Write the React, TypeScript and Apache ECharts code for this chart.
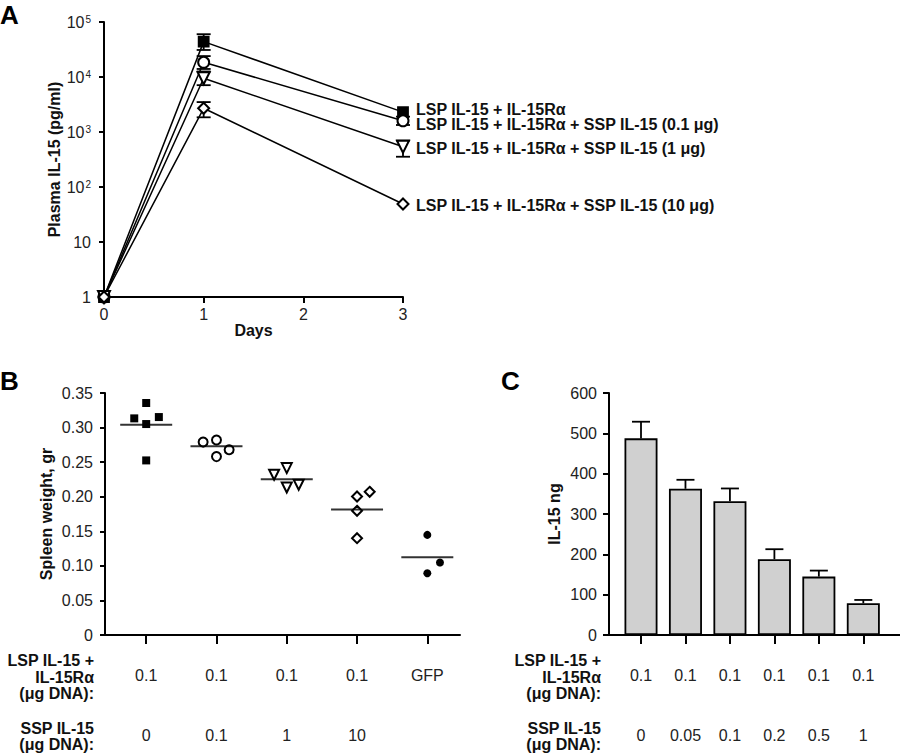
import React, { useEffect, useRef } from "react";
import * as echarts from "echarts";

const FONT = "'Liberation Sans', Arial, Helvetica, sans-serif";
const INK = "#111";

// ---------- Panel A: plasma IL-15 over days (log scale) ----------
const daysA = [0, 1, 3];
const seriesNamesA = [
  "LSP IL-15 + IL-15Rα",
  "LSP IL-15 + IL-15Rα + SSP IL-15 (0.1 μg)",
  "LSP IL-15 + IL-15Rα + SSP IL-15 (1 μg)",
  "LSP IL-15 + IL-15Rα + SSP IL-15 (10 μg)",
];
const plasmaSquare = [1, 44000, 2300];
const plasmaCircle = [1, 18500, 1600];
const plasmaTriangle = [1, 9500, 540];
const plasmaDiamond = [1, 2700, 49];
// [day, low, high]
const plasmaErrors = [
  [1, 31000, 60000],
  [1, 14000, 24000],
  [3, 1340, 1900],
  [1, 7100, 12600],
  [3, 355, 700],
  [1, 1850, 3500],
];
const dayTicks = [0, 1, 2, 3];

// ---------- Panel B: spleen weight dot plot ----------
const lspRowB = ["0.1", "0.1", "0.1", "0.1", "GFP"];
const sspRowB = ["0", "0.1", "1", "10", ""];
const spleenSquares = [[1, 0.3355], [0.83, 0.3133], [1.18, 0.3152], [1, 0.3051], [1, 0.2525]];
const spleenCircles = [[1.81, 0.279], [2, 0.282], [2.18, 0.268], [2, 0.258]];
const spleenTriangles = [[2.82, 0.2317], [3, 0.2414], [3, 0.2134], [3.17, 0.2172]];
const spleenDiamonds = [[4, 0.2003], [4.18, 0.2071], [4, 0.1796], [4, 0.14]];
const spleenGFP = [[5, 0.1448], [5.18, 0.1048], [5, 0.0893]];
const spleenMeans = [0.304, 0.273, 0.2254, 0.1815, 0.1125];

// ---------- Panel C: IL-15 ng bars ----------
const lspRowC = ["0.1", "0.1", "0.1", "0.1", "0.1", "0.1"];
const sspRowC = ["0", "0.05", "0.1", "0.2", "0.5", "1"];
const il15Ng = [487.5, 362.5, 331.9, 187.9, 144.8, 78.6];
const il15Err = [41.3, 22.3, 31.4, 24.8, 14.9, 8.3];

const headerLSP = ["LSP IL-15 +", "IL-15Rα", "(μg DNA):"];
const headerSSP = ["SSP IL-15", "(μg DNA):"];

const axisLine = { lineStyle: { color: "#000", width: 2 } };

function errRender(capLow: boolean, capW: number) {
  return (params: any, api: any) => {
    const x = api.value(0);
    const lo = api.value(1);
    const hi = api.value(2);
    const pLo = api.coord([x, lo]);
    const pHi = api.coord([x, hi]);
    const st = { stroke: "#000", lineWidth: 1.8 };
    const w = capW / 2;
    const children: any[] = [
      { type: "line", shape: { x1: pLo[0], y1: pLo[1], x2: pHi[0], y2: pHi[1] }, style: st },
      { type: "line", shape: { x1: pHi[0] - w, y1: pHi[1], x2: pHi[0] + w, y2: pHi[1] }, style: st },
    ];
    if (capLow) {
      children.push({ type: "line", shape: { x1: pLo[0] - w, y1: pLo[1], x2: pLo[0] + w, y2: pLo[1] }, style: st });
    }
    return { type: "group", children };
  };
}

export default function App() {
  const ref = useRef<HTMLDivElement>(null);
  useEffect(() => {
    if (!ref.current) return;
    const chart = echarts.init(ref.current, null, { renderer: "svg" });

    const plasmaSets = [plasmaSquare, plasmaCircle, plasmaTriangle, plasmaDiamond];
    const symA = ["rect", "emptyCircle", "emptyTriangle", "emptyDiamond"];
    const rotA = [0, 0, 180, 0];
    const sizeA = [10, 11, 12, 11];
    const labelOffA = [[0, -3], [0, 4], [0, 2], [0, 1]];

    const lineSeries = plasmaSets.map((vals, i) => ({
      type: "line",
      name: seriesNamesA[i],
      xAxisIndex: 0,
      yAxisIndex: 0,
      data: daysA.map((d, j) => [d, vals[j]]),
      symbol: symA[i],
      symbolRotate: rotA[i],
      symbolSize: sizeA[i],
      showAllSymbol: true,
      clip: false,
      z: 5,
      lineStyle: { color: "#000", width: 1.5 },
      itemStyle: { color: "#000", borderColor: "#000", borderWidth: 1.8 },
      endLabel: {
        show: true,
        formatter: "{a}",
        distance: 13,
        offset: labelOffA[i],
        fontFamily: FONT,
        fontWeight: "bold",
        fontSize: 16,
        color: INK,
      },
    }));

    const scatterSets = [spleenSquares, spleenCircles, spleenTriangles, spleenDiamonds, spleenGFP];
    const symB = ["rect", "emptyCircle", "emptyTriangle", "emptyDiamond", "circle"];
    const rotB = [0, 0, 180, 0, 0];
    const sizeB = [8, 9, 10, 10, 8];
    const scatterSeries = scatterSets.map((pts, i) => ({
      type: "scatter",
      xAxisIndex: 1,
      yAxisIndex: 1,
      data: pts,
      symbol: symB[i],
      symbolRotate: rotB[i],
      symbolSize: sizeB[i],
      clip: false,
      z: 5,
      itemStyle: {
        color: "#000",
        borderColor: "#000",
        borderWidth: i === 0 || i === 4 ? 0 : 1.6,
        opacity: 1,
      },
    }));

    const gridBase = { containLabel: false, outerBoundsMode: "none" };

    const option: any = {
      animation: false,
      backgroundColor: "#fff",
      textStyle: { fontFamily: FONT },
      grid: [
        { ...gridBase, left: 104, top: 22, width: 299, height: 275 },
        { ...gridBase, left: 105, top: 393, width: 355, height: 242 },
        { ...gridBase, left: 609, top: 393, width: 291, height: 242 },
      ],
      xAxis: [
        {
          type: "value",
          gridIndex: 0,
          min: 0,
          max: 3,
          interval: 1,
          axisLine,
          axisTick: { show: true, length: 6, lineStyle: { color: "#000", width: 2 } },
          axisLabel: {
            customValues: dayTicks,
            fontSize: 16,
            color: "#222",
            margin: 9,
            fontFamily: FONT,
          },
          splitLine: { show: false },
          name: "Days",
          nameLocation: "middle",
          nameGap: 25,
          nameTextStyle: { fontFamily: FONT, fontWeight: "bold", fontSize: 16, color: INK },
        },
        {
          type: "value",
          gridIndex: 1,
          min: 0.4138,
          max: 5.465,
          axisLine,
          axisTick: { show: true, length: 9, customValues: [1, 2, 3, 4, 5], lineStyle: { color: "#000", width: 2 } },
          axisLabel: {
            customValues: [1, 2, 3, 4, 5],
            formatter: (v: number) => `${lspRowB[Math.round(v) - 1]}\n${sspRowB[Math.round(v) - 1]}`,
            fontSize: 16,
            lineHeight: 60,
            margin: 10,
            color: "#222",
            fontFamily: FONT,
          },
          splitLine: { show: false },
        },
        {
          type: "value",
          gridIndex: 2,
          min: 0.2803,
          max: 6.825,
          axisLine,
          axisTick: { show: true, length: 9, customValues: [1, 2, 3, 4, 5, 6], lineStyle: { color: "#000", width: 2 } },
          axisLabel: {
            customValues: [1, 2, 3, 4, 5, 6],
            formatter: (v: number) => `${lspRowC[Math.round(v) - 1]}\n${sspRowC[Math.round(v) - 1]}`,
            fontSize: 16,
            lineHeight: 60,
            margin: 10,
            color: "#222",
            fontFamily: FONT,
          },
          splitLine: { show: false },
        },
      ],
      yAxis: [
        {
          type: "log",
          gridIndex: 0,
          logBase: 10,
          min: 1,
          max: 100000,
          axisLine: { show: true, ...axisLine },
          axisTick: { show: true, length: 5, lineStyle: { color: "#000", width: 2 } },
          axisLabel: {
            fontSize: 16,
            color: "#222",
            margin: 13,
            fontFamily: FONT,
            formatter: (v: number) => {
              const e = Math.round(Math.log10(v));
              if (e === 0) return "1";
              if (e === 1) return "10";
              return `10{sup|${e}}`;
            },
            rich: {
              sup: { fontSize: 10, color: "#222", verticalAlign: "top", padding: [0, 0, 6, 1], fontFamily: FONT },
            },
          },
          splitLine: { show: false },
          minorTick: { show: false },
          name: "Plasma IL-15 (pg/ml)",
          nameLocation: "middle",
          nameGap: 40,
          nameTextStyle: { fontFamily: FONT, fontWeight: "bold", fontSize: 16, color: INK },
        },
        {
          type: "value",
          gridIndex: 1,
          min: 0,
          max: 0.35,
          interval: 0.05,
          axisLine: { show: true, ...axisLine },
          axisTick: { show: true, length: 5, lineStyle: { color: "#000", width: 2 } },
          axisLabel: {
            fontSize: 16,
            color: "#222",
            margin: 12,
            fontFamily: FONT,
            formatter: (v: number) => (v === 0 ? "0" : v.toFixed(2)),
          },
          splitLine: { show: false },
          name: "Spleen weight, gr",
          nameLocation: "middle",
          nameGap: 51,
          nameTextStyle: { fontFamily: FONT, fontWeight: "bold", fontSize: 16, color: INK },
        },
        {
          type: "value",
          gridIndex: 2,
          min: 0,
          max: 600,
          interval: 100,
          axisLine: { show: true, ...axisLine },
          axisTick: { show: true, length: 6, lineStyle: { color: "#000", width: 2 } },
          axisLabel: { fontSize: 16, color: "#222", margin: 12, fontFamily: FONT },
          splitLine: { show: false },
          name: "IL-15 ng",
          nameLocation: "middle",
          nameGap: 47,
          nameTextStyle: { fontFamily: FONT, fontWeight: "bold", fontSize: 16, color: INK },
        },
      ],
      series: [
        {
          type: "custom",
          xAxisIndex: 0,
          yAxisIndex: 0,
          z: 3,
          clip: false,
          renderItem: errRender(true, 14),
          data: plasmaErrors,
        },
        ...lineSeries,
        ...scatterSeries,
        {
          type: "scatter",
          xAxisIndex: 1,
          yAxisIndex: 1,
          symbol: "rect",
          symbolSize: [52, 2],
          z: 6,
          itemStyle: { color: "#000" },
          data: spleenMeans.map((m, i) => [i + 1, m]),
        },
        {
          type: "custom",
          xAxisIndex: 2,
          yAxisIndex: 2,
          z: 1,
          renderItem: errRender(false, 18),
          data: il15Ng.map((v, i) => [i + 1, v, v + il15Err[i]]),
        },
        {
          type: "bar",
          xAxisIndex: 2,
          yAxisIndex: 2,
          barWidth: 33,
          z: 4,
          itemStyle: { color: "#d0d0d0", borderColor: "#000", borderWidth: 1.8 },
          data: il15Ng.map((v, i) => [i + 1, v]),
        },
      ],
      graphic: [
        { type: "text", left: 0, top: 2, style: { text: "A", fontFamily: FONT, fontWeight: "bold", fontSize: 26, fill: "#000" } },
        { type: "text", left: 0, top: 368, style: { text: "B", fontFamily: FONT, fontWeight: "bold", fontSize: 26, fill: "#000" } },
        { type: "text", left: 501, top: 368, style: { text: "C", fontFamily: FONT, fontWeight: "bold", fontSize: 26, fill: "#000" } },
        {
          type: "text",
          x: 94,
          y: 677,
          style: { text: headerLSP.join("\n"), align: "right", verticalAlign: "middle", lineHeight: 16.5, fontFamily: FONT, fontWeight: "bold", fontSize: 16, fill: INK },
        },
        {
          type: "text",
          x: 94,
          y: 736,
          style: { text: headerSSP.join("\n"), align: "right", verticalAlign: "middle", lineHeight: 16, fontFamily: FONT, fontWeight: "bold", fontSize: 16, fill: INK },
        },
        {
          type: "text",
          x: 601,
          y: 677,
          style: { text: headerLSP.join("\n"), align: "right", verticalAlign: "middle", lineHeight: 16.5, fontFamily: FONT, fontWeight: "bold", fontSize: 16, fill: INK },
        },
        {
          type: "text",
          x: 601,
          y: 736,
          style: { text: headerSSP.join("\n"), align: "right", verticalAlign: "middle", lineHeight: 16, fontFamily: FONT, fontWeight: "bold", fontSize: 16, fill: INK },
        },
      ],
    };

    chart.setOption(option);
    return () => chart.dispose();
  }, []);

  return (
    <div
      ref={ref}
      style={{ position: "absolute", left: 0, top: 0, width: 900, height: 756, background: "#fff" }}
    />
  );
}
